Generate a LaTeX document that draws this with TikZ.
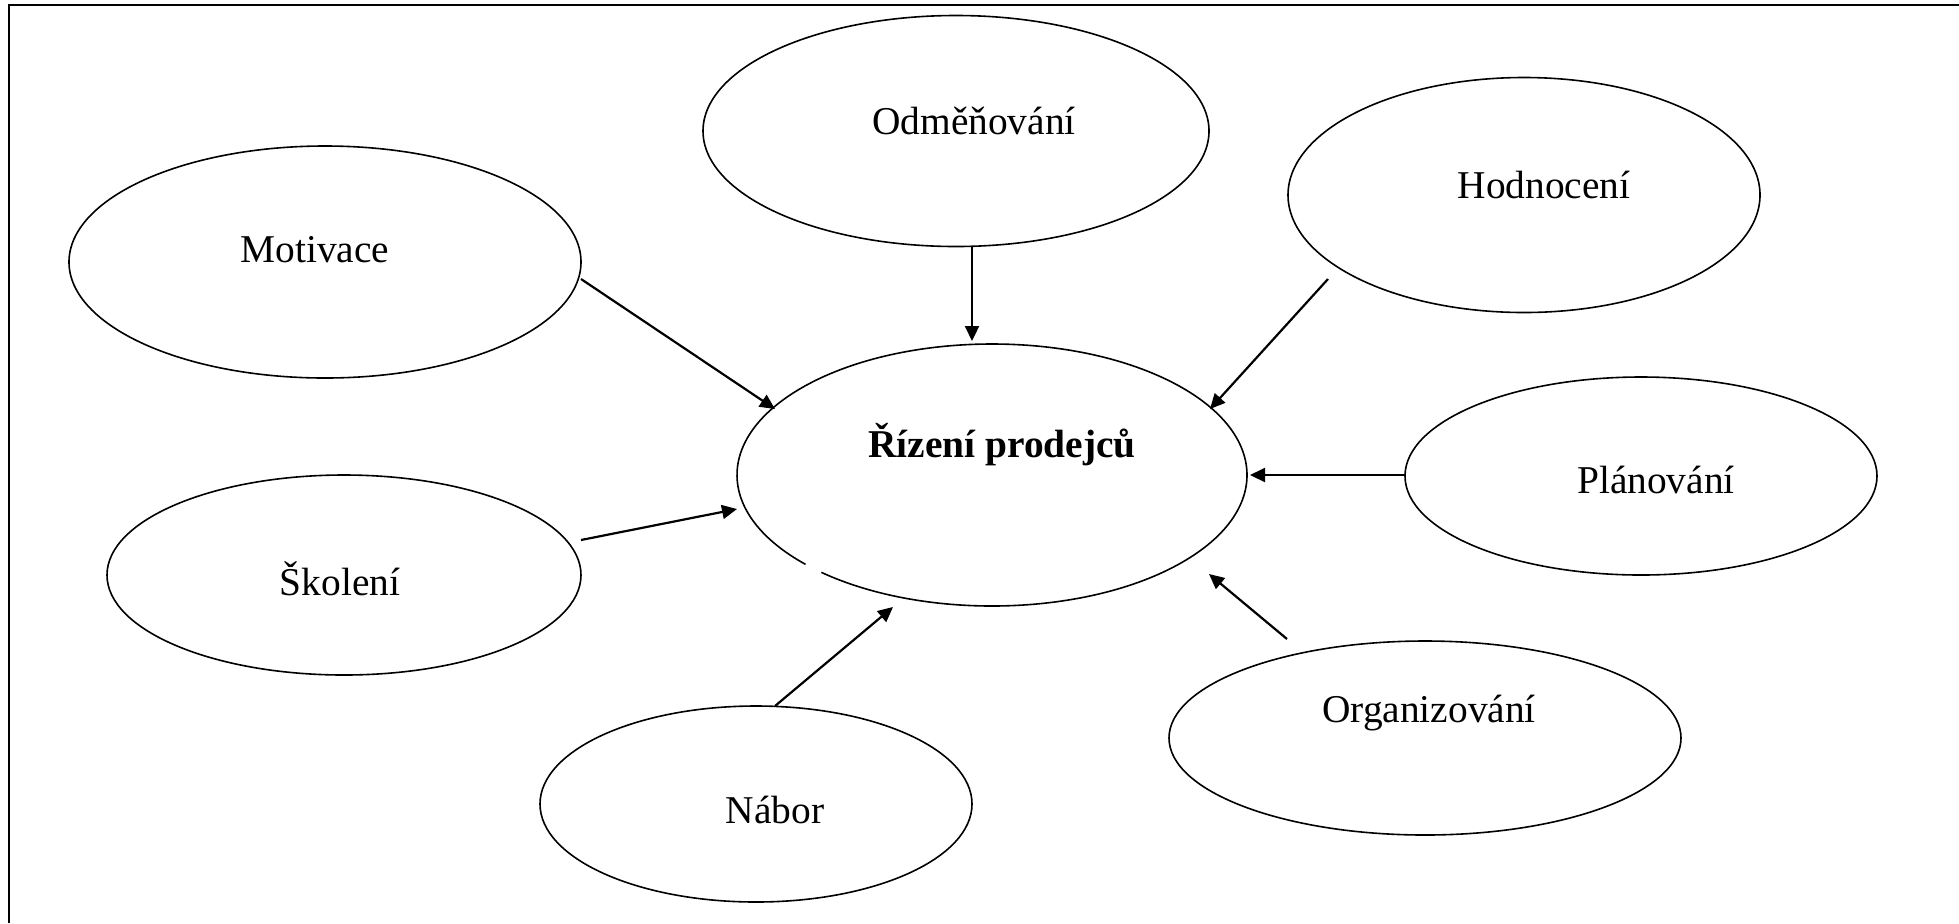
\documentclass[tikz,border=0pt]{standalone}
\usepackage{fontspec}
\setmainfont{Liberation Serif}
\usetikzlibrary{shapes.geometric,arrows.meta,calc}
\begin{document}
\begin{tikzpicture}[x=0.5pt,y=0.5pt,
  oval/.style={ellipse,draw,line width=0.8pt,inner sep=0pt},
  lbl/.style={font=\fontsize{19.7}{24}\selectfont,inner sep=0pt},
  arr/.style={-{Triangle[length=7.5pt,width=7pt]},line width=1.1pt}]
\useasboundingbox (0,0) rectangle (1959,-923);
\draw[line width=1pt] (9,-923) -- (9,-5) -- (1959,-5);
% ellipses
\node[oval,minimum width=253pt,minimum height=115.5pt] (odm) at (956,-131) {};
\node[oval,minimum width=236pt,minimum height=117.5pt] (hod) at (1524,-195) {};
\node[oval,minimum width=256pt,minimum height=116pt] (mot) at (325,-262) {};
\node[oval,minimum width=237pt,minimum height=100pt] (sko) at (344,-575) {};
\node[oval,minimum width=236pt,minimum height=99pt] (pla) at (1641,-476) {};
\node[oval,minimum width=256pt,minimum height=97pt] (org) at (1425,-738) {};
\node[oval,minimum width=216pt,minimum height=98pt] (nab) at (756,-804) {};
\node[oval,draw=none,minimum width=255pt,minimum height=131pt] (cen) at (992,-475) {};
\draw[line width=0.8pt] ($(cen)+(228:255 and 131)$) arc[start angle=228,end angle=583,x radius=255,y radius=131];
% labels
\node[lbl] (todm) at (974,-121) {Odměňování};
\node[lbl] (thod) at (1544,-185) {Hodnocení};
\node[lbl] (tmot) at (315,-250) {Motivace};
\node[lbl] (tcen) at (1002,-445) {\textbf{Řízení prodejců}};
\node[lbl] (tsko) at (340,-579) {Školení};
\node[lbl] (tpla) at (1656,-480) {Plánování};
\node[lbl] (torg) at (1429,-713) {Organizování};
\node[lbl] (tnab) at (775,-810) {Nábor};
% arrows
\draw[arr] ($(mot)+(256,-17)$) -- ($(cen)+(-217,66)$);
\draw[arr] ($(odm)+(16,-115)$) -- ($(cen)+(-20,134)$);
\draw[arr] ($(hod)+(-196,-84)$) -- ($(cen)+(218,66)$);
\draw[arr] ($(pla)+(-236,1)$) -- ($(cen)+(258,0)$);
\draw[arr] ($(sko)+(237,35)$) -- ($(cen)+(-255,-34)$);
\draw[arr] ($(nab)+(19,98)$) -- ($(cen)+(-99,-132)$);
\draw[arr] ($(org)+(-138,99)$) -- ($(cen)+(217,-99)$);
\end{tikzpicture}
\end{document}
